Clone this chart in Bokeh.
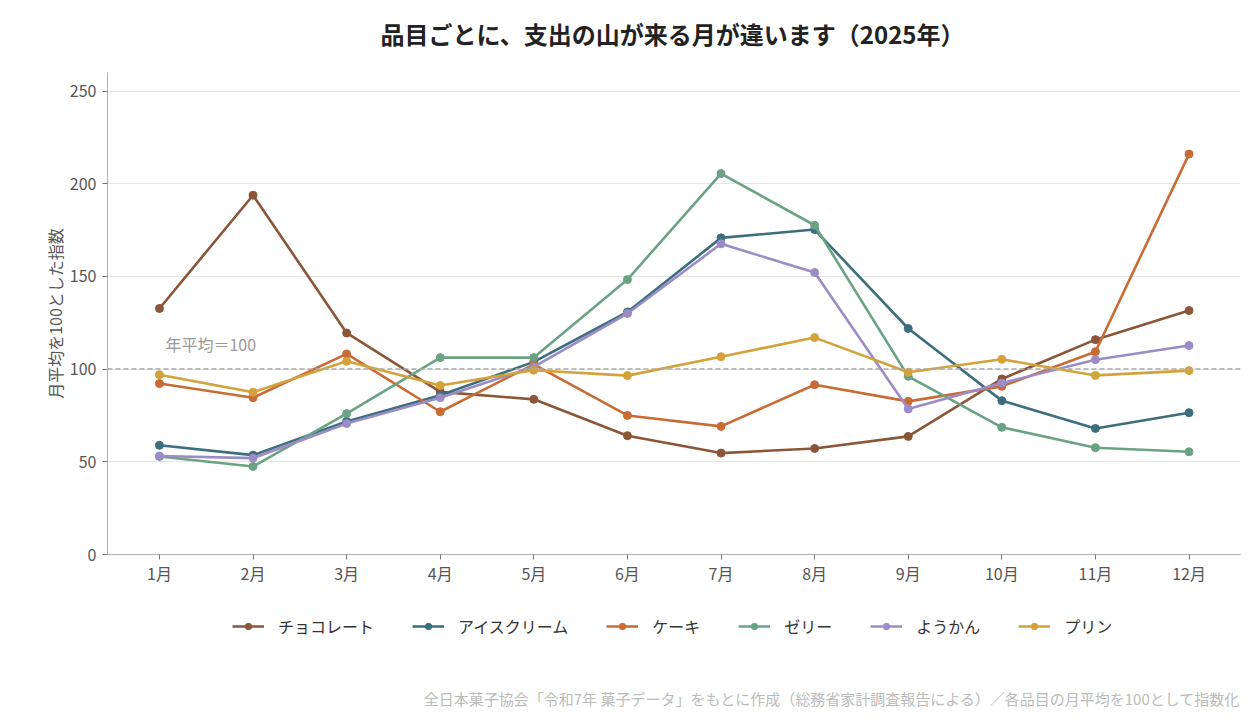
from bokeh.plotting import figure
from bokeh.layouts import column
from bokeh.models import (Range1d, FixedTicker, Span, Label, Legend, LegendItem)
from bokeh.embed import file_html
from bokeh.resources import INLINE

months = [1, 2, 3, 4, 5, 6, 7, 8, 9, 10, 11, 12]
month_labels = ["1月", "2月", "3月", "4月", "5月", "6月", "7月", "8月", "9月", "10月", "11月", "12月"]

chocolate = [132.7, 193.8, 119.5, 87.7, 83.7, 64.1, 54.7, 57.2, 63.7, 94.7, 115.9, 131.6]
icecream = [58.9, 53.6, 71.8, 85.9, 103.9, 130.8, 170.8, 175.3, 121.9, 83.0, 68.0, 76.5]
cake = [92.2, 84.6, 108.2, 77.0, 102.6, 75.0, 69.1, 91.6, 82.6, 90.7, 109.4, 216.0]
jelly = [52.9, 47.5, 76.0, 106.2, 106.2, 148.3, 205.5, 177.6, 96.1, 68.6, 57.6, 55.4]
yokan = [53.1, 52.0, 70.6, 84.6, 101.2, 130.0, 167.6, 152.1, 78.5, 92.5, 105.1, 112.7]
pudding = [97.0, 87.5, 104.2, 91.2, 99.4, 96.5, 106.7, 117.0, 98.3, 105.3, 96.6, 99.2]

series_names = ["チョコレート", "アイスクリーム", "ケーキ", "ゼリー", "ようかん", "プリン"]
series_values = [chocolate, icecream, cake, jelly, yokan, pudding]
series_colors = ["#8b5638", "#3d6e7e", "#c96b35", "#6aa283", "#9b8cc8", "#d4a23a"]

y_ticks = [0, 50, 100, 150, 200, 250]

title_text = "品目ごとに、支出の山が来る月が違います（2025年）"
footer_text = "全日本菓子協会「令和7年 菓子データ」をもとに作成（総務省家計調査報告による）／各品目の月平均を100として指数化"

FONT = "Noto Sans CJK JP"


def strip(height):
    f = figure(width=1244, height=height, output_backend="svg", toolbar_location=None,
               x_range=Range1d(107, 1240), y_range=Range1d(0, height),
               min_border_left=107, min_border_right=4, min_border_top=0, min_border_bottom=0)
    f.axis.visible = False
    f.grid.grid_line_color = None
    f.outline_line_color = None
    return f


# title strip
t = strip(72)
t.add_layout(Label(x=672, y=39, text=title_text, text_align="center", text_baseline="middle",
                   text_font=FONT, text_font_size="24px", text_font_style="bold",
                   text_color="#222222"))

# main chart
p = figure(frame_width=1133, frame_height=482, output_backend="svg", toolbar_location=None,
           x_range=Range1d(0.445, 12.55), y_range=Range1d(0, 260),
           min_border_left=107, min_border_right=4, min_border_top=0, min_border_bottom=40)
p.outline_line_color = None
p.background_fill_color = "white"
p.border_fill_color = "white"

p.xaxis.ticker = FixedTicker(ticks=months)
p.xaxis.major_label_overrides = {m: l for m, l in zip(months, month_labels)}
p.yaxis.ticker = FixedTicker(ticks=y_ticks)
for ax in (p.xaxis, p.yaxis):
    ax.axis_line_color = "#b0b0b0"
    ax.major_tick_line_color = "#777777"
    ax.major_tick_out = 5
    ax.major_tick_in = 0
    ax.minor_tick_line_color = None
    ax.major_label_text_font = FONT
    ax.major_label_text_font_size = "16px"
    ax.major_label_text_color = "#555555"
p.xaxis.major_label_standoff = 1
p.yaxis.major_label_standoff = 6
p.yaxis.axis_label = "月平均を100とした指数"
p.yaxis.axis_label_text_font = FONT
p.yaxis.axis_label_text_font_size = "16px"
p.yaxis.axis_label_text_font_style = "normal"
p.yaxis.axis_label_text_color = "#555555"
p.yaxis.axis_label_standoff = 0

p.xgrid.grid_line_color = None
p.ygrid.ticker = FixedTicker(ticks=[50, 100, 150, 200, 250])
p.ygrid.grid_line_color = "#e6e6e6"
p.ygrid.grid_line_width = 1

p.add_layout(Span(location=100, dimension="width", line_color="#aaaaaa",
                  line_width=1.5, line_dash="5 3"))
p.add_layout(Label(x=1, y=100, x_offset=6, y_offset=13, text="年平均＝100",
                   text_font=FONT, text_font_size="16px", text_color="#999999",
                   text_baseline="bottom", text_align="left"))

for name, vals, col in zip(series_names, series_values, series_colors):
    p.line(months, vals, line_color=col, line_width=2.6)
    p.scatter(months, vals, size=8, fill_color=col, line_color=col)

# legend + footer strip
q = strip(118)
items = []
for name, col in zip(series_names, series_colors):
    # legend swatches only: placed outside the visible range
    r1 = q.line([-900, -899], [-900, -900], line_color=col, line_width=2.6)
    r2 = q.scatter([-900], [-900], size=7.5, fill_color=col, line_color=col)
    items.append(LegendItem(label=name, renderers=[r1, r2]))

legend = Legend(items=items, orientation="horizontal", location=(125, 74),
                label_text_font=FONT, label_text_font_size="16px", label_text_color="#333333",
                glyph_width=32, glyph_height=16, label_standoff=14, spacing=38,
                border_line_color=None, background_fill_alpha=0,
                margin=0, padding=0)
legend.label_height = 20
q.add_layout(legend, "center")

q.add_layout(Label(x=1240, y=14, text=footer_text,
                   text_align="right", text_baseline="middle", text_font=FONT,
                   text_font_size="15px", text_color="#bbbbbb"))

layout = column(t, p, q, spacing=0)
open("out.html", "w").write(file_html(layout, INLINE))
